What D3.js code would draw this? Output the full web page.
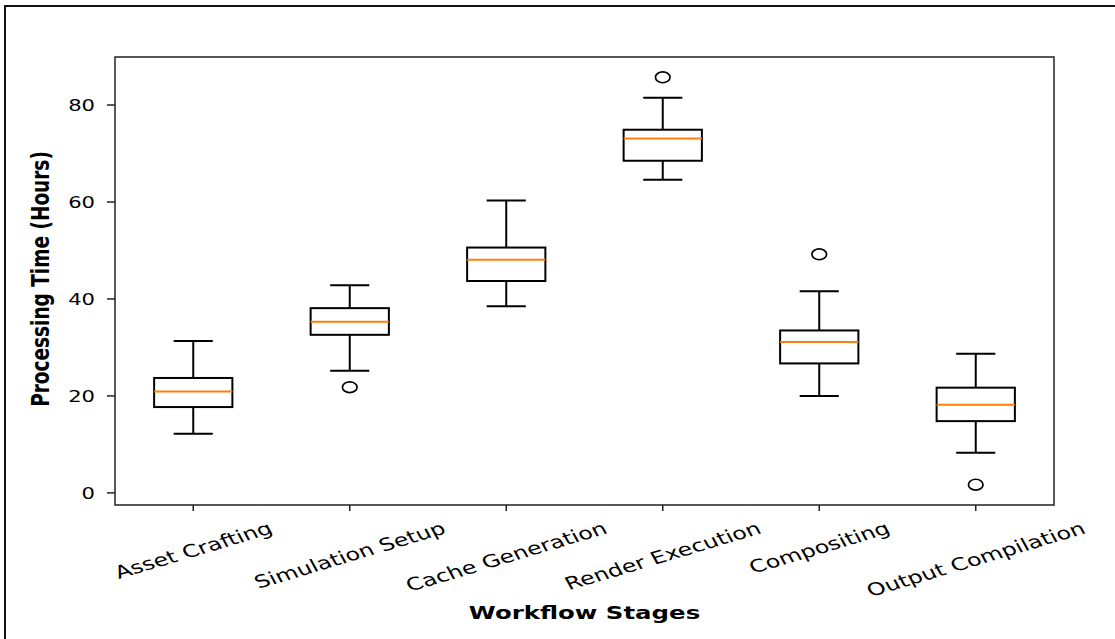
<!DOCTYPE html>
<html>
<head>
<meta charset="utf-8">
<script src="https://cdn.jsdelivr.net/npm/d3@7"></script>
<style>
  html, body { margin: 0; padding: 0; background: #fff; }
  svg { display: block; }
  text { font-family: "DejaVu Sans", sans-serif; fill: #000; }
</style>
</head>
<body>
<svg id="chart" width="1115" height="639"></svg>
<script>
const categories = ["Asset Crafting", "Simulation Setup", "Cache Generation", "Render Execution", "Compositing", "Output Compilation"];
const whiskerLow  = [12.1, 25.1, 38.4, 64.5, 19.9, 8.2];
const q1          = [17.6, 32.5, 43.6, 68.4, 26.6, 14.7];
const medians     = [20.8, 35.2, 48.0, 73.0, 31.0, 18.1];
const q3          = [23.6, 38.0, 50.5, 74.8, 33.4, 21.6];
const whiskerHigh = [31.2, 42.7, 60.2, 81.4, 41.5, 28.6];
const outliers    = [[], [21.7], [], [85.6], [49.1], [1.6]];
const yTicks      = [0, 20, 40, 60, 80];
const xTitle = "Workflow Stages";
const yTitle = "Processing Time (Hours)";

const STRETCH = 1.32;
const plot = { left: 115, right: 1054, top: 57, bottom: 505 };

const svg = d3.select("#chart");

// outer frame (only top/left edges fall inside the view)
svg.append("rect")
  .attr("x", 5).attr("y", 6).attr("width", 1300).attr("height", 1000)
  .attr("fill", "none").attr("stroke", "#111").attr("stroke-width", 2);

const data = categories.map((c, i) => ({
  cat: c, lo: whiskerLow[i], q1: q1[i], med: medians[i], q3: q3[i], hi: whiskerHigh[i], out: outliers[i]
}));

const allVals = data.flatMap(d => [d.lo, d.hi, ...d.out]);
const vmin = d3.min(allVals), vmax = d3.max(allVals);
const pad = (vmax - vmin) * 0.05;

const x = d3.scaleBand().domain(categories).range([plot.left, plot.right]).paddingInner(0).paddingOuter(0);
const y = d3.scaleLinear().domain([vmin - pad, vmax + pad]).range([plot.bottom, plot.top]);

const bw = x.bandwidth() * 0.5;
const cx = c => x(c) + x.bandwidth() / 2;

// boxes
const g = svg.append("g");
const box = g.selectAll("g.box").data(data).join("g").attr("class", "box");

box.append("line")
  .attr("x1", d => cx(d.cat)).attr("x2", d => cx(d.cat))
  .attr("y1", d => y(d.lo)).attr("y2", d => y(d.q1))
  .attr("stroke", "#000").attr("stroke-width", 2);
box.append("line")
  .attr("x1", d => cx(d.cat)).attr("x2", d => cx(d.cat))
  .attr("y1", d => y(d.q3)).attr("y2", d => y(d.hi))
  .attr("stroke", "#000").attr("stroke-width", 2);
box.append("line")
  .attr("x1", d => cx(d.cat) - bw / 4).attr("x2", d => cx(d.cat) + bw / 4)
  .attr("y1", d => y(d.lo)).attr("y2", d => y(d.lo))
  .attr("stroke", "#000").attr("stroke-width", 2);
box.append("line")
  .attr("x1", d => cx(d.cat) - bw / 4).attr("x2", d => cx(d.cat) + bw / 4)
  .attr("y1", d => y(d.hi)).attr("y2", d => y(d.hi))
  .attr("stroke", "#000").attr("stroke-width", 2);
box.append("rect")
  .attr("x", d => cx(d.cat) - bw / 2).attr("width", bw)
  .attr("y", d => y(d.q3)).attr("height", d => y(d.q1) - y(d.q3))
  .attr("fill", "none").attr("stroke", "#000").attr("stroke-width", 2);
box.append("line")
  .attr("x1", d => cx(d.cat) - bw / 2).attr("x2", d => cx(d.cat) + bw / 2)
  .attr("y1", d => y(d.med)).attr("y2", d => y(d.med))
  .attr("stroke", "#ff7f0e").attr("stroke-width", 2);
box.selectAll("ellipse").data(d => d.out.map(v => ({ cat: d.cat, v })))
  .join("ellipse")
  .attr("cx", d => cx(d.cat)).attr("cy", d => y(d.v))
  .attr("rx", 7.3).attr("ry", 5.4)
  .attr("fill", "none").attr("stroke", "#000").attr("stroke-width", 1.7);

// spines
svg.append("rect")
  .attr("x", plot.left).attr("y", plot.top)
  .attr("width", plot.right - plot.left).attr("height", plot.bottom - plot.top)
  .attr("fill", "none").attr("stroke", "#222").attr("stroke-width", 1.5);

// y axis
const yAxis = svg.append("g").attr("transform", `translate(${plot.left},0)`)
  .call(d3.axisLeft(y).tickValues(yTicks).tickSize(8).tickFormat(d3.format("d")));
yAxis.select(".domain").remove();
yAxis.selectAll(".tick line").attr("stroke", "#222").attr("stroke-width", 1.5);
yAxis.selectAll(".tick text")
  .attr("x", null).attr("dy", "0.36em")
  .attr("text-anchor", "end")
  .attr("transform", `translate(-20,0) scale(${STRETCH},1)`)
  .style("font-size", "16px").style("font-family", "DejaVu Sans, sans-serif").attr("fill", "#000");

// x axis
const XS = 1.36, XF = 17.5, ROT = 22;
const xAxis = svg.append("g").attr("transform", `translate(0,${plot.bottom})`)
  .call(d3.axisBottom(x).tickSize(6));
xAxis.select(".domain").remove();
xAxis.selectAll(".tick line").attr("stroke", "#222").attr("stroke-width", 1.5);
const ang = ROT * Math.PI / 180;
xAxis.selectAll(".tick text")
  .attr("y", null).attr("dy", "0.35em")
  .attr("text-anchor", "middle")
  .style("font-size", XF + "px").style("font-family", "DejaVu Sans, sans-serif").attr("fill", "#000")
  .each(function () {
    const L = this.getComputedTextLength();
    const h = XF * 1.0;
    const half = (L * Math.sin(ang) + h * Math.cos(ang)) / 2;
    d3.select(this).attr("transform", `translate(0,${14 + half}) scale(${XS},1) rotate(${-ROT})`);
  });

// axis titles
svg.append("text")
  .attr("transform", `translate(${(plot.left + plot.right) / 2},619) scale(${STRETCH},1)`)
  .attr("text-anchor", "middle")
  .style("font-size", "18.5px").style("font-weight", "bold")
  .text(xTitle);

svg.append("text")
  .attr("transform", `translate(49,${(plot.top + plot.bottom) / 2 - 2}) scale(${STRETCH},1) rotate(-90)`)
  .attr("text-anchor", "middle")
  .style("font-size", "18.5px").style("font-weight", "bold")
  .text(yTitle);
</script>
</body>
</html>
